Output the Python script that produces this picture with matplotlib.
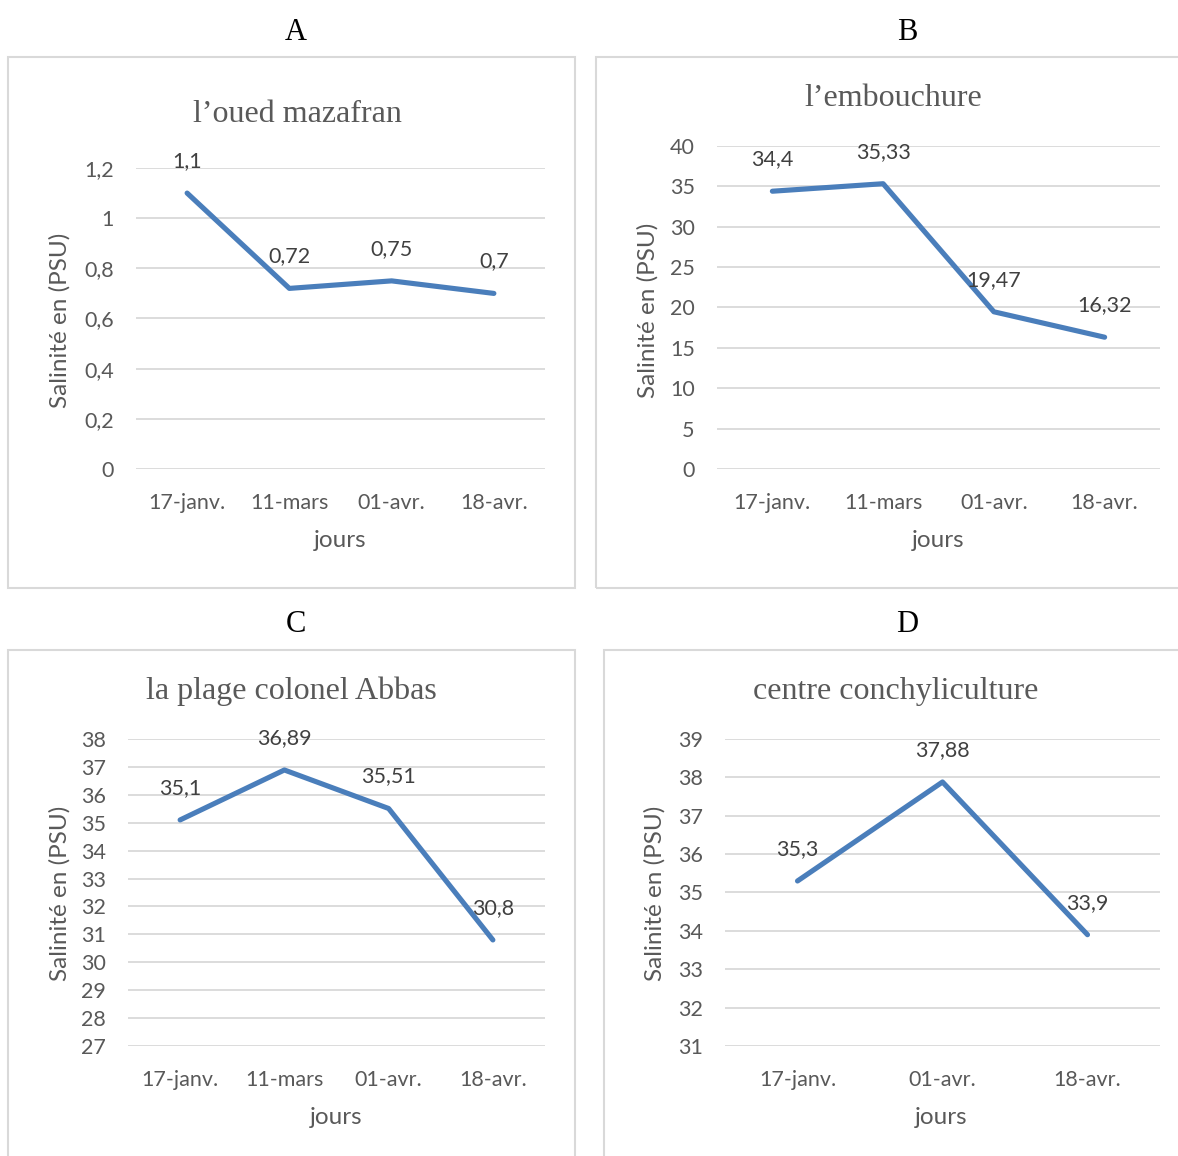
"""
Salinité (PSU) sur quatre stations - quatre petits graphiques en grille
"""

import matplotlib
matplotlib.use("Agg")
import matplotlib.pyplot as plt
from matplotlib.patches import Rectangle

# ==========================
# DONNEES
# ==========================

jours_abc = ["17-janv.", "11-mars", "01-avr.", "18-avr."]
jours_d = ["17-janv.", "01-avr.", "18-avr."]

sal_a = [1.1, 0.72, 0.75, 0.7]
sal_b = [34.4, 35.33, 19.47, 16.32]
sal_c = [35.1, 36.89, 35.51, 30.8]
sal_d = [35.3, 37.88, 33.9]

ticks_a = [0, 0.2, 0.4, 0.6, 0.8, 1, 1.2]
ticks_b = [0, 5, 10, 15, 20, 25, 30, 35, 40]
ticks_c = list(range(27, 39))
ticks_d = list(range(31, 40))

titres = ["l\u2019oued mazafran", "l\u2019embouchure",
          "la plage colonel Abbas", "centre conchyliculture"]
lettres = ["A", "B", "C", "D"]

# ==========================
# STYLE
# ==========================

W, H = 1178, 1156
LINE = "#4A7EBB"
GRID = "#D9D9D9"
TXT = "#595959"
LAB = "#404040"
SANS = "Lato"
SERIF = "Liberation Serif"

fig = plt.figure(figsize=(W / 100, H / 100), dpi=100)
fig.patch.set_facecolor("white")


def fx(px):
    return px / W


def fy(py):
    return 1 - py / H


def virgule(v):
    return f"{v:g}".replace(".", ",")


def panneau(box, axbox, jours, vals, yticks, titre, titre_xy, lettre, lettre_xy, ylab_xy, xlab_xy):
    # cadre gris du graphique
    x0, y0, x1, y1 = box
    fig.patches.append(Rectangle((fx(x0), fy(y1)), fx(x1 - x0), (y1 - y0) / H,
                                 transform=fig.transFigure, fill=False,
                                 edgecolor=GRID, linewidth=1.5))
    fig.text(fx(lettre_xy[0]), fy(lettre_xy[1]), lettre, ha="center", va="center",
             fontsize=22, family=SERIF, color="black")
    fig.text(fx(titre_xy[0]), fy(titre_xy[1]), titre, ha="center", va="center",
             fontsize=23, family=SERIF, color=TXT)

    l, t, r, b = axbox
    ax = fig.add_axes([fx(l), fy(b), fx(r - l), (b - t) / H])
    x = list(range(len(jours)))
    ax.plot(x, vals, color=LINE, linewidth=3.7, solid_capstyle="round",
            solid_joinstyle="round", zorder=3)
    ax.set_xlim(-0.5, len(jours) - 0.5)
    ax.set_ylim(yticks[0], yticks[-1])
    ax.set_yticks(yticks)
    ax.set_yticklabels([virgule(v) for v in yticks], family=SANS, fontsize=15.5, color=TXT)
    ax.set_xticks(x)
    ax.set_xticklabels(jours, family=SANS, fontsize=15.5, color=TXT)
    ax.tick_params(length=0, axis="y", pad=16)
    ax.tick_params(length=0, axis="x", pad=17)
    ax.grid(axis="y", color=GRID, linewidth=1.3)
    ax.set_axisbelow(True)
    for s in ax.spines.values():
        s.set_visible(False)

    for xi, v in zip(x, vals):
        ax.annotate(virgule(v), (xi, v), xytext=(0, 32), textcoords="offset pixels",
                    ha="center", va="center", family=SANS, fontsize=15.5, color=LAB,
                    annotation_clip=False, zorder=4)

    fig.text(fx(ylab_xy[0]), fy(ylab_xy[1]), "Salinit\u00e9 en (PSU)", rotation=90,
             ha="center", va="center", family=SANS, fontsize=17.5, color=TXT)
    fig.text(fx(xlab_xy[0]), fy(xlab_xy[1]), "jours",
             ha="center", va="center", family=SANS, fontsize=17.5, color=TXT)
    return ax


panneau((8, 57, 575, 588), (136, 168, 545, 469), jours_abc, sal_a, ticks_a,
        titres[0], (297, 115), lettres[0], (296, 33), (60, 320), (340, 540))
panneau((596, 57, 1180, 588), (717, 146, 1160, 469), jours_abc, sal_b, ticks_b,
        titres[1], (893, 99), lettres[1], (907, 33), (648, 310), (938, 540))
panneau((8, 650, 575, 1160), (128, 739, 545, 1046), jours_abc, sal_c, ticks_c,
        titres[2], (291, 691), lettres[2], (296, 624), (60, 893), (336, 1117))
panneau((604, 650, 1180, 1160), (725, 739, 1160, 1046), jours_d, sal_d, ticks_d,
        titres[3], (896, 691), lettres[3], (907, 624), (655, 893), (941, 1117))

fig.savefig("out.png", dpi=100)
